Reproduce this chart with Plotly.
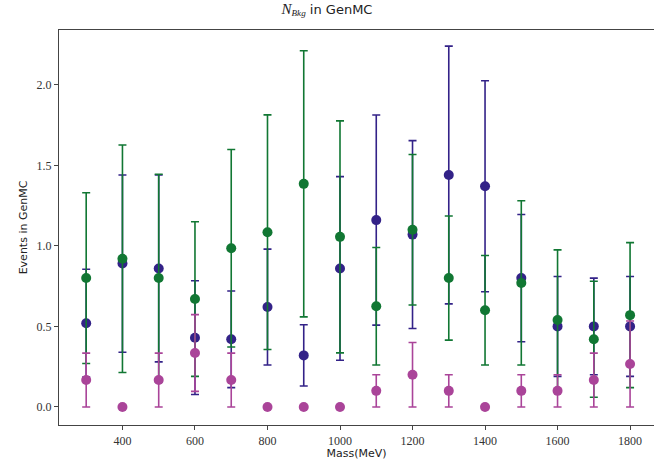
import plotly.graph_objects as go

mass = [300, 400, 500, 600, 700, 800, 900, 1000, 1100, 1200, 1300, 1400, 1500, 1600, 1700, 1800]

blue_val = [0.52, 0.89, 0.86, 0.43, 0.42, 0.62, 0.32, 0.86, 1.16, 1.07, 1.44, 1.37, 0.80, 0.50, 0.50, 0.50]
blue_err = [0.335, 0.55, 0.58, 0.353, 0.30, 0.36, 0.19, 0.57, 0.652, 0.583, 0.80, 0.655, 0.395, 0.31, 0.30, 0.31]

green_val = [0.80, 0.92, 0.80, 0.67, 0.985, 1.085, 1.385, 1.056, 0.625, 1.10, 0.80, 0.60, 0.77, 0.54, 0.42, 0.57]
green_err = [0.53, 0.706, 0.645, 0.48, 0.613, 0.728, 0.826, 0.72, 0.365, 0.467, 0.385, 0.34, 0.51, 0.435, 0.36, 0.45]

pink_val = [0.167, 0.0, 0.167, 0.335, 0.167, 0.0, 0.0, 0.0, 0.10, 0.20, 0.10, 0.0, 0.10, 0.10, 0.167, 0.267]
pink_err = [0.167, 0.0, 0.167, 0.238, 0.167, 0.0, 0.0, 0.0, 0.10, 0.20, 0.10, 0.0, 0.10, 0.10, 0.167, 0.267]

y_ticks = [0.0, 0.5, 1.0, 1.5, 2.0]
x_ticks = [400, 600, 800, 1000, 1200, 1400, 1600, 1800]

series = [
    ("blue", blue_val, blue_err, "#332288"),
    ("green", green_val, green_err, "#117733"),
    ("pink", pink_val, pink_err, "#AA4499"),
]

fig = go.Figure()
for name, vals, errs, col in series:
    fig.add_trace(go.Scatter(
        x=mass, y=vals, mode="markers", name=name,
        marker=dict(color=col, size=10, line=dict(width=0)),
        error_y=dict(type="data", array=errs, visible=True, color=col,
                     thickness=1.6, width=4),
        showlegend=False,
    ))

serif = "Liberation Serif"
sans = "DejaVu Sans"

fig.update_layout(
    width=654, height=461,
    margin=dict(l=59, r=0, t=30, b=36, autoexpand=False),
    paper_bgcolor="white", plot_bgcolor="white",
    title=dict(text="<span style='font-family:Liberation Serif;font-size:15px'><i>N</i></span>"
                    "<sub><i><span style='font-family:Liberation Serif'>Bkg</span></i></sub> in GenMC",
               x=0.5, xanchor="center",
               y=0.99, yanchor="top", font=dict(family=sans, size=13, color="#222")),
    xaxis=dict(range=[225, 1866], tickvals=x_ticks, ticktext=[str(v) for v in x_ticks],
               automargin=False,
               showgrid=False, zeroline=False, showline=True, linecolor="#444", linewidth=1.2,
               mirror=True, ticks="outside", ticklen=4, tickcolor="#444",
               tickfont=dict(family=serif, size=12, color="#333"),
               title=dict(text="Mass(MeV)", font=dict(family=sans, size=11, color="#222"), standoff=2)),
    yaxis=dict(range=[-0.112, 2.34], tickvals=y_ticks, ticktext=[f"{v:.1f}" for v in y_ticks],
               automargin=False,
               showgrid=False, zeroline=False, showline=True, linecolor="#444", linewidth=1.2,
               mirror=True, ticks="outside", ticklen=4, tickcolor="#444",
               tickfont=dict(family=serif, size=12, color="#333"),
               title=dict(text="Events in GenMC", font=dict(family=sans, size=11, color="#222"), standoff=6)),
)

fig.write_html("out.html", config={"displayModeBar": False})

with open("out.html", "r", encoding="utf-8") as f:
    html = f.read()
html = html.replace("<head>", "<head><style>html,body{margin:0;padding:0;overflow:hidden;}</style>", 1)
with open("out.html", "w", encoding="utf-8") as f:
    f.write(html)
